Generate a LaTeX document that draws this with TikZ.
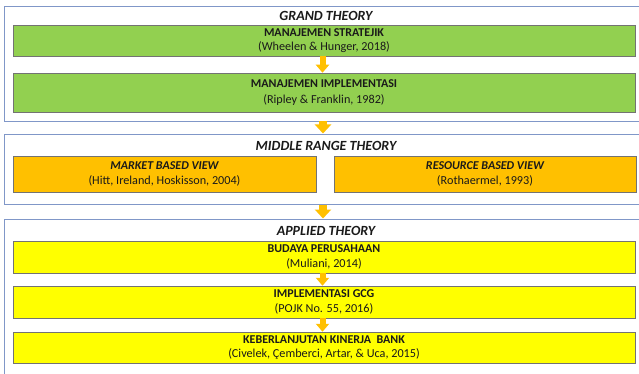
\documentclass[tikz,border=0pt]{standalone}
\usepackage{fontspec}
\setmainfont{Carlito}
\usetikzlibrary{shadows,arrows.meta}
\definecolor{frameblue}{HTML}{8097C8}
\definecolor{ggreen}{HTML}{92D050}
\definecolor{gorange}{HTML}{FFC000}
\definecolor{gyellow}{HTML}{FFFF00}
\definecolor{txt}{HTML}{1A1A1A}
\newcommand{\hd}[1]{{\fontsize{12}{14}\selectfont\bfseries #1}}
\tikzset{
  frame/.style={draw=frameblue, line width=0.9pt},
  tbox/.style={draw=black!55, line width=0.5pt, minimum height=#1, align=center, inner sep=0pt,
    font=\fontsize{12.2}{14.5}\selectfont, text=txt,
    drop shadow={shadow xshift=1.2pt, shadow yshift=-1.2pt, fill=black!40, opacity=0.5}},
  ttl/.style={font=\fontsize{14}{16}\selectfont\bfseries\itshape, text=txt},
  conn/.style={draw=gorange, line width=6pt, -{Triangle[width=13pt,length=8pt]}, shorten >=0pt},
  conn2/.style={draw=gorange, line width=8pt, -{Triangle[width=16pt,length=9pt]}, shorten >=0pt}
}
\begin{document}
\begin{tikzpicture}[x=1pt,y=-1pt]
\useasboundingbox (0,0) rectangle (639,374);
\clip (0,0) rectangle (639,374);
\fill[white] (0,0) rectangle (639,374);
% frames
\draw[frame] (4,6) rectangle (660,121);
\draw[frame] (4,134) rectangle (660,204);
\draw[frame] (4,219) rectangle (660,390);
% titles
\node[ttl] (t1) at (326,16) {GRAND THEORY};
\node[ttl] (t2) at (326,146) {MIDDLE RANGE THEORY};
\node[ttl] (t3) at (326,231) {APPLIED THEORY};
% grand theory
\node[tbox=31pt, minimum width=622pt, fill=ggreen] (ms) at (324,40.5)
  {\hd{MANAJEMEN STRATEJIK}\\(Wheelen \& Hunger, 2018)};
\node[tbox=39pt, minimum width=622pt, fill=ggreen] (mi) at (324,92.5)
  {\hd{MANAJEMEN IMPLEMENTASI}\\[2pt](Ripley \& Franklin, 1982)};
% middle range
\node[tbox=36pt, minimum width=303pt, fill=gorange] (mbv) at (164.5,174)
  {\hd{\itshape MARKET BASED VIEW}\\(Hitt, Ireland, Hoskisson, 2004)};
\node[tbox=36pt, minimum width=302pt, fill=gorange] (rbv) at (485,174)
  {\hd{\itshape RESOURCE BASED VIEW}\\(Rothaermel, 1993)};
% applied
\node[tbox=32pt, minimum width=622pt, fill=gyellow] (bp) at (324,257)
  {\hd{BUDAYA PERUSAHAAN}\\(Muliani, 2014)};
\node[tbox=32pt, minimum width=622pt, fill=gyellow] (gcg) at (324,302)
  {\hd{IMPLEMENTASI GCG}\\(POJK No. 55, 2016)};
\node[tbox=31pt, minimum width=622pt, fill=gyellow] (kb) at (324,347.5)
  {\hd{KEBERLANJUTAN KINERJA\ \ BANK}\\(Civelek, Çemberci, Artar, \& Uca, 2015)};
% connectors
\coordinate (ax) at (322.5,0);
\coordinate (f1b) at (323,121.5);
\coordinate (f2t) at (323,133.5);
\coordinate (f2b) at (323,204.5);
\coordinate (f3t) at (323,218.5);
\draw[conn] (ms.south -| ax) -- (mi.north -| ax);
\draw[conn2] (f1b) -- (f2t);
\draw[conn2] (f2b) -- (f3t);
\draw[conn] (bp.south -| ax) -- (gcg.north -| ax);
\draw[conn] (gcg.south -| ax) -- (kb.north -| ax);
\end{tikzpicture}
\end{document}
